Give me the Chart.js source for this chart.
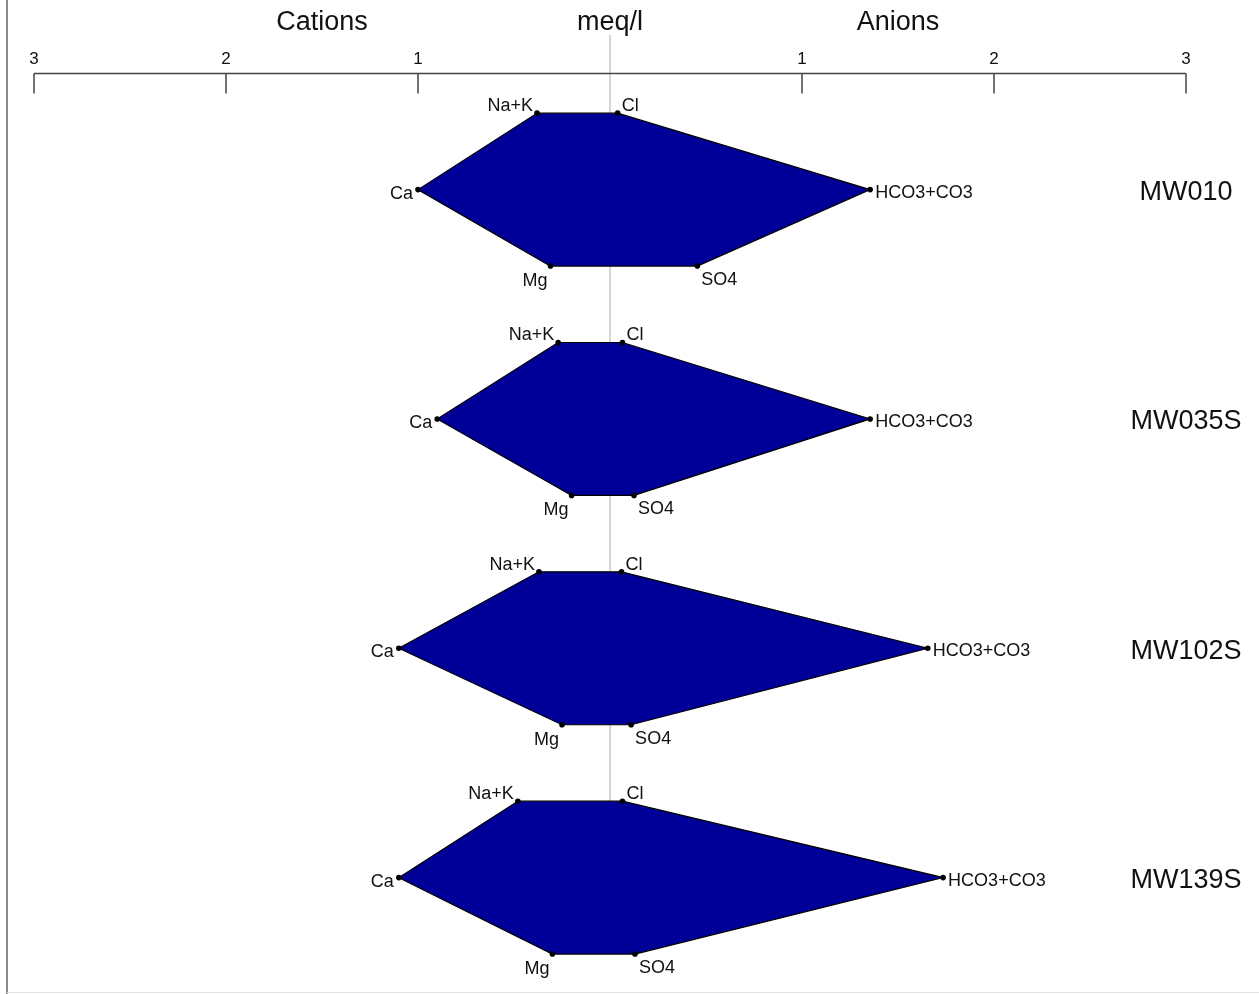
<!DOCTYPE html>
<html>
<head>
<meta charset="utf-8">
<script src="https://cdn.jsdelivr.net/npm/chart.js@4"></script>
<style>
  html, body { margin: 0; padding: 0; background: #fff; }
  canvas { display: block; }
</style>
</head>
<body>
<canvas id="stiff" width="1259" height="994"></canvas>
<script>
// Stiff diagram data (meq/l)
const samples = ['MW010', 'MW035S', 'MW102S', 'MW139S'];
const naK  = [0.38, 0.27, 0.37, 0.48];
const ca   = [1.00, 0.90, 1.10, 1.10];
const mg   = [0.31, 0.20, 0.25, 0.30];
const cl   = [0.04, 0.065, 0.06, 0.065];
const hco3 = [1.355, 1.355, 1.655, 1.735];
const so4  = [0.455, 0.125, 0.11, 0.13];
const axisTicks = [-3, -2, -1, 1, 2, 3];

// polygon order: Na+K, Cl, HCO3+CO3, SO4, Mg, Ca, back to Na+K
const ionLabels = ['Na+K', 'Cl', 'HCO3+CO3', 'SO4', 'Mg', 'Ca'];

const FONT = "'Liberation Sans', Arial, sans-serif";
const FILL = '#000098';

function buildDataset(i) {
    const top = 1 - 3 * i, mid = -3 * i, bot = -1 - 3 * i;
    return {
        label: samples[i],
        data: [
            { x: -naK[i], y: top },
            { x: cl[i], y: top },
            { x: hco3[i], y: mid },
            { x: so4[i], y: bot },
            { x: -mg[i], y: bot },
            { x: -ca[i], y: mid },
            { x: -naK[i], y: top }
        ],
        showLine: true,
        borderColor: '#000',
        borderWidth: 1.2,
        pointBackgroundColor: '#000',
        pointBorderWidth: 0,
        pointRadius: [2.8, 2.8, 2.8, 2.8, 2.8, 2.8, 0],
        tension: 0
    };
}

// fill the polygons, center line, top axis, titles and labels
const stiffPlugin = {
    id: 'stiff',
    beforeDatasetsDraw(chart) {
        const { ctx, scales: { x, y } } = chart;
        ctx.save();
        // left frame
        ctx.strokeStyle = '#8a8a8a';
        ctx.lineWidth = 2;
        ctx.beginPath();
        ctx.moveTo(7, 0);
        ctx.lineTo(7, chart.height);
        ctx.stroke();
        ctx.strokeStyle = '#e2e2e2';
        ctx.lineWidth = 1;
        ctx.beginPath();
        ctx.moveTo(7, chart.height - 1.5);
        ctx.lineTo(chart.width, chart.height - 1.5);
        ctx.stroke();

        // center line
        ctx.strokeStyle = '#c8c8c8';
        ctx.lineWidth = 1.5;
        ctx.beginPath();
        ctx.moveTo(x.getPixelForValue(0), 35);
        ctx.lineTo(x.getPixelForValue(0), y.getPixelForValue(-3 * (samples.length - 1)));
        ctx.stroke();

        // axis
        const ay = chart.chartArea.top;
        ctx.strokeStyle = '#444';
        ctx.lineWidth = 1.5;
        ctx.beginPath();
        ctx.moveTo(x.getPixelForValue(-3), ay);
        ctx.lineTo(x.getPixelForValue(3), ay);
        axisTicks.forEach(t => {
            const px = x.getPixelForValue(t);
            ctx.moveTo(px, ay);
            ctx.lineTo(px, ay + 20);
        });
        ctx.stroke();

        // titles
        ctx.fillStyle = '#111';
        ctx.font = '27px ' + FONT;
        ctx.textAlign = 'center';
        ctx.textBaseline = 'alphabetic';
        ctx.fillText('Cations', x.getPixelForValue(-1.5), 30);
        ctx.fillText('meq/l', x.getPixelForValue(0), 30);
        ctx.fillText('Anions', x.getPixelForValue(1.5), 30);

        // polygon fills
        chart.data.datasets.forEach((ds, i) => {
            const pts = chart.getDatasetMeta(i).data;
            ctx.fillStyle = FILL;
            ctx.beginPath();
            pts.forEach((p, j) => j === 0 ? ctx.moveTo(p.x, p.y) : ctx.lineTo(p.x, p.y));
            ctx.closePath();
            ctx.fill();
        });
        ctx.restore();
    },
    afterDatasetsDraw(chart) {
        const { ctx, scales: { x, y } } = chart;
        const offsets = [
            { dx: -4, dy: -7, align: 'right' },
            { dx: 4, dy: -7, align: 'left' },
            { dx: 5, dy: 3, align: 'left' },
            { dx: 4, dy: 14, align: 'left' },
            { dx: -3, dy: 15, align: 'right' },
            { dx: -5, dy: 4, align: 'right' }
        ];
        ctx.save();
        ctx.fillStyle = '#111';
        ctx.textBaseline = 'middle';
        chart.data.datasets.forEach((ds, i) => {
            const pts = chart.getDatasetMeta(i).data;
            ctx.font = '18px ' + FONT;
            ionLabels.forEach((lab, j) => {
                const o = offsets[j];
                ctx.textAlign = o.align;
                ctx.fillText(lab, pts[j].x + o.dx, pts[j].y + o.dy);
            });
            ctx.font = '27px ' + FONT;
            ctx.textAlign = 'center';
            ctx.fillText(samples[i], x.getPixelForValue(3), y.getPixelForValue(-3 * i) + 3);
        });
        ctx.restore();
    }
};

new Chart(document.getElementById('stiff'), {
    type: 'scatter',
    data: { datasets: samples.map((s, i) => buildDataset(i)) },
    options: {
        responsive: false,
        animation: false,
        events: [],
        layout: { padding: { left: 34, right: 73, top: 45, bottom: 0 } },
        plugins: {
            legend: { display: false },
            tooltip: { enabled: false }
        },
        scales: {
            x: {
                type: 'linear',
                position: 'top',
                min: -3,
                max: 3,
                grid: { display: false, drawTicks: false },
                border: { display: false },
                ticks: {
                    stepSize: 1,
                    padding: 4,
                    color: '#111',
                    font: { family: FONT, size: 17 },
                    maxRotation: 0,
                    callback: v => v === 0 ? '' : String(Math.abs(v))
                }
            },
            y: {
                type: 'linear',
                display: false,
                min: -10.47,
                max: 1.52
            }
        }
    },
    plugins: [stiffPlugin]
});
</script>
</body>
</html>
